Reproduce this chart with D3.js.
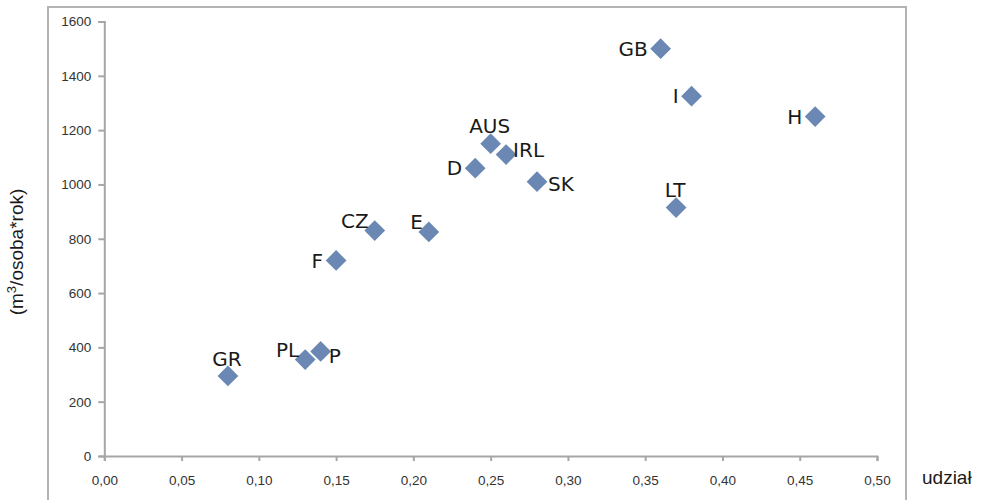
<!DOCTYPE html>
<html>
<head>
<meta charset="utf-8">
<style>
body { margin: 0; background: #fff; }
svg { display: block; }
.tick text { font-family: "Liberation Sans", Arial, sans-serif; font-size: 13.5px; fill: #333; }
.lbl { font-family: "DejaVu Sans", Verdana, sans-serif; font-size: 20px; fill: #1a1a1a; }
</style>
</head>
<body>
<div id="chart"></div>
<script src="https://cdn.jsdelivr.net/npm/d3@7"></script>
<script>
// values
var countries = ['GB', 'I', 'H', 'LT', 'AUS', 'IRL', 'D', 'SK', 'CZ', 'E', 'F', 'GR', 'PL', 'P'];
var share     = [0.36, 0.38, 0.46, 0.37, 0.25, 0.26, 0.24, 0.28, 0.175, 0.21, 0.15, 0.08, 0.13, 0.14];
var water     = [1500, 1325, 1250, 915, 1150, 1110, 1060, 1010, 830, 825, 720, 295, 355, 385];
// which side of the marker the label sits on
var labelSide = ['l', 'l', 'l', 't', 't', 'tr', 'l', 'r', 'tl', 'tl', 'l', 't', 'tl', 'br'];

var xTicks = [0, 0.05, 0.10, 0.15, 0.20, 0.25, 0.30, 0.35, 0.40, 0.45, 0.50];
var yTicks = [0, 200, 400, 600, 800, 1000, 1200, 1400, 1600];

var W = 981, H = 500;
var axisCol = '#a6a6a6';
var markCol = '#6a88b3';

var svg = d3.select('#chart').append('svg')
    .attr('width', W).attr('height', H);

// outer chart frame (bottom runs off the picture)
svg.append('rect')
    .attr('x', 48).attr('y', 7)
    .attr('width', 858).attr('height', 520)
    .attr('fill', 'none')
    .attr('stroke', '#b3b3b3')
    .attr('stroke-width', 2);

var x = d3.scaleLinear().domain([0, 0.5]).range([104.3, 877]);
var y = d3.scaleLinear().domain([0, 1600]).range([456, 21.5]);

var comma = function (v) { return d3.format('.2f')(v).replace('.', ','); };

var gy = svg.append('g')
    .attr('transform', 'translate(' + x(0) + ',0)')
    .call(d3.axisLeft(y).tickValues(yTicks).tickSize(6).tickPadding(7).tickFormat(d3.format('d')));

var gx = svg.append('g')
    .attr('transform', 'translate(0,' + y(0) + ')')
    .call(d3.axisBottom(x).tickValues(xTicks).tickSize(5).tickPadding(14).tickFormat(comma));

[gx, gy].forEach(function (g) {
    g.select('.domain').attr('stroke', axisCol).attr('stroke-width', 2);
    g.selectAll('.tick line').attr('stroke', axisCol).attr('stroke-width', 2);
});

// axis titles
var yt = svg.append('text')
    .attr('transform', 'translate(23,252) rotate(-90)')
    .attr('text-anchor', 'middle')
    .style('font-family', '"Liberation Sans", Arial, sans-serif')
    .style('font-size', '19px')
    .attr('fill', '#1a1a1a');
yt.append('tspan').text('(m');
yt.append('tspan').attr('baseline-shift', 'super').style('font-size', '13px').text('3');
yt.append('tspan').text('/osoba*rok)');

svg.append('text')
    .attr('x', 922).attr('y', 484)
    .style('font-family', '"Liberation Sans", Arial, sans-serif')
    .style('font-size', '19px')
    .attr('fill', '#1a1a1a')
    .text('udział');

var data = countries.map(function (c, i) {
    return {name: c, x: share[i], y: water[i], side: labelSide[i]};
});

var offs = {
    l:  {a: 'end',    dx: -13, dy: 0},
    r:  {a: 'start',  dx: 11,  dy: 2},
    t:  {a: 'middle', dx: -1,  dy: -17.5},
    tr: {a: 'start',  dx: 7,   dy: -5},
    tl: {a: 'end',    dx: -6,  dy: -10},
    br: {a: 'start',  dx: 8,   dy: 4}
};

var diamond = d3.symbol().type(d3.symbolSquare).size(215);

svg.append('g').selectAll('path')
    .data(data)
    .enter().append('path')
    .attr('d', diamond)
    .attr('transform', function (d) { return 'translate(' + x(d.x) + ',' + y(d.y) + ') rotate(45)'; })
    .attr('fill', markCol);

svg.append('g').selectAll('text')
    .data(data)
    .enter().append('text')
    .attr('class', 'lbl')
    .attr('x', function (d) { return x(d.x) + offs[d.side].dx; })
    .attr('y', function (d) { return y(d.y) + offs[d.side].dy; })
    .attr('dy', '0.36em')
    .attr('text-anchor', function (d) { return offs[d.side].a; })
    .text(function (d) { return d.name; });
</script>
</body>
</html>
